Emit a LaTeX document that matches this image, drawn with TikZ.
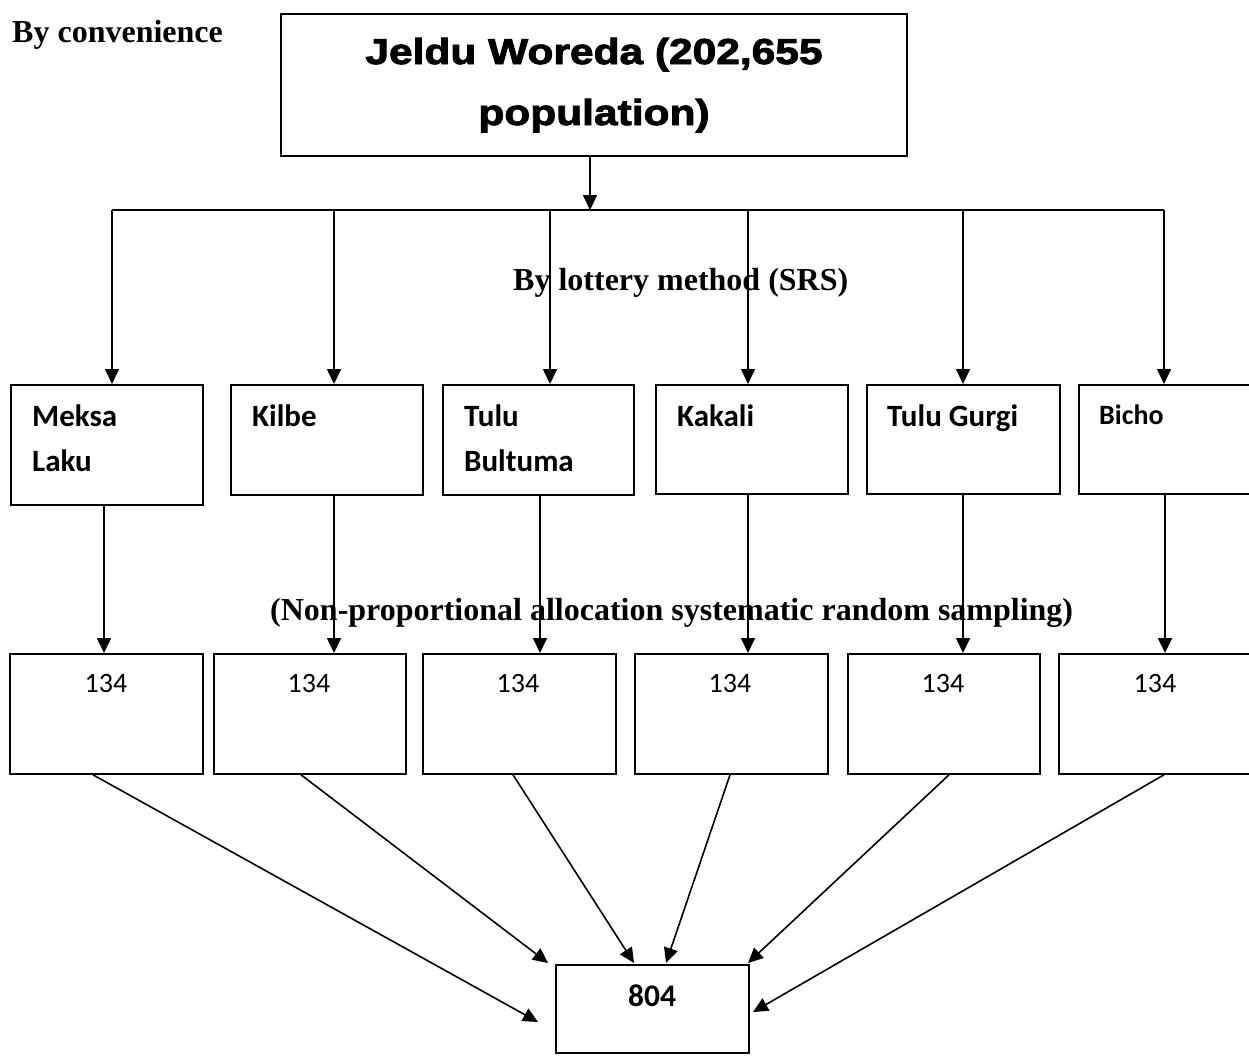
\documentclass[tikz,border=0pt]{standalone}
\usepackage{fontspec}
\setmainfont{Liberation Serif}
\newfontfamily\calib{Carlito}
\newfontfamily\heavy{Liberation Sans}[FakeStretch=1.18,FakeBold=2.5]
\usetikzlibrary{arrows.meta}
\begin{document}
\begin{tikzpicture}[x=1pt,y=-1pt,
  box/.style={draw,line width=1.8pt,rectangle,inner sep=0pt,anchor=north west},
  arr/.style={line width=1.6pt,-{Triangle[length=15pt,width=14pt]}},
  plain/.style={line width=1.6pt},
  lbl/.style={font=\bfseries\fontsize{32}{32}\selectfont,anchor=base west,inner sep=0pt},
  place/.style={font=\calib\bfseries\fontsize{31}{31}\selectfont,anchor=base west,inner sep=0pt},
  num/.style={font=\calib\fontsize{28}{28}\selectfont,anchor=base,inner sep=0pt},
  ttl/.style={font=\heavy\bfseries\fontsize{36}{36}\selectfont,anchor=base,inner sep=0pt}]
\useasboundingbox[fill=white] (0,0) rectangle (1249,1057);

% top box
\node[box,minimum width=626pt,minimum height=142pt] (top) at (280,13) {};
\node[ttl] (t1) at (594,64) {Jeldu Woreda (202,655};
\node[ttl] (t2) at (594,125) {population)};

% labels
\node[lbl] (conv) at (12,43) {By convenience};
\node[lbl] (lot) at (513,290) {By lottery method (SRS)};
\node[lbl] (npa) at (270,620) {(Non-proportional allocation systematic random sampling)};

% row 2
\node[box,minimum width=192pt,minimum height=120pt] (b1) at (10,384) {};
\node[box,minimum width=192pt,minimum height=110pt] (b2) at (230,384) {};
\node[box,minimum width=191pt,minimum height=110pt] (b3) at (442,384) {};
\node[box,minimum width=192pt,minimum height=109pt] (b4) at (655,384) {};
\node[box,minimum width=193pt,minimum height=109pt] (b5) at (866,384) {};
\node[box,minimum width=192pt,minimum height=109pt] (b6) at (1078,384) {};

\node[place] (n1a) at (32,426) {Meksa};
\node[place] (n1b) at (32,471) {Laku};
\node[place] (n2) at (252,426) {Kilbe};
\node[place] (n3a) at (464,426) {Tulu};
\node[place] (n3b) at (464,471) {Bultuma};
\node[place] (n4) at (677,426) {Kakali};
\node[place] (n5) at (887,426) {Tulu Gurgi};
\node[place,font=\calib\bfseries\fontsize{28}{28}\selectfont] (n6) at (1099,424) {Bicho};

% row 3
\node[box,minimum width=193pt,minimum height=120pt] (c1) at (9,653) {};
\node[box,minimum width=192pt,minimum height=120pt] (c2) at (213,653) {};
\node[box,minimum width=193pt,minimum height=120pt] (c3) at (422,653) {};
\node[box,minimum width=193pt,minimum height=120pt] (c4) at (634,653) {};
\node[box,minimum width=192pt,minimum height=120pt] (c5) at (847,653) {};
\node[box,minimum width=193pt,minimum height=120pt] (c6) at (1058,653) {};

\node[num] (k1) at (106,692) {134};
\node[num] (k2) at (309,692) {134};
\node[num] (k3) at (518,692) {134};
\node[num] (k4) at (730,692) {134};
\node[num] (k5) at (943,692) {134};
\node[num] (k6) at (1155,692) {134};

% total
\node[box,minimum width=193pt,minimum height=88pt] (tot) at (555,964) {};
\node[font=\calib\bfseries\fontsize{31.5}{31.5}\selectfont,anchor=base,inner sep=0pt] (tv) at (652,1006) {804};

% connectors top
\coordinate (hub) at (590,210);
\coordinate (barL) at (112,210);
\coordinate (barR) at (1164,210);
\draw[plain] (barL) -- (barR);
\draw[arr] (top.south -| hub) -- (hub);

\coordinate (d1) at (112,210);
\coordinate (d2) at (334,210);
\coordinate (d3) at (550,210);
\coordinate (d4) at (748,210);
\coordinate (d5) at (963,210);
\coordinate (d6) at (1164,210);
\foreach \i in {1,...,6} \draw[arr] (d\i) -- (d\i |- b\i.north);

\coordinate (v1) at (104,0);
\coordinate (v2) at (334,0);
\coordinate (v3) at (540,0);
\coordinate (v4) at (748,0);
\coordinate (v5) at (963,0);
\coordinate (v6) at (1165,0);
\foreach \i in {1,...,6} \draw[arr] (v\i |- b\i.south) -- (v\i |- c\i.north);

% to total
\coordinate (s1) at (93,0);
\coordinate (s2) at (301,0);
\coordinate (s3) at (513,0);
\coordinate (s4) at (730,0);
\coordinate (s5) at (949,0);
\coordinate (s6) at (1164,0);
\coordinate (e1) at (538,1022);
\coordinate (e2) at (548,963);
\coordinate (e3) at (634,963);
\coordinate (e4) at (666,963);
\coordinate (e5) at (748,963);
\coordinate (e6) at (753,1012);
\foreach \i in {1,...,6} \draw[arr] (s\i |- c\i.south) -- (e\i);
\end{tikzpicture}
\end{document}
